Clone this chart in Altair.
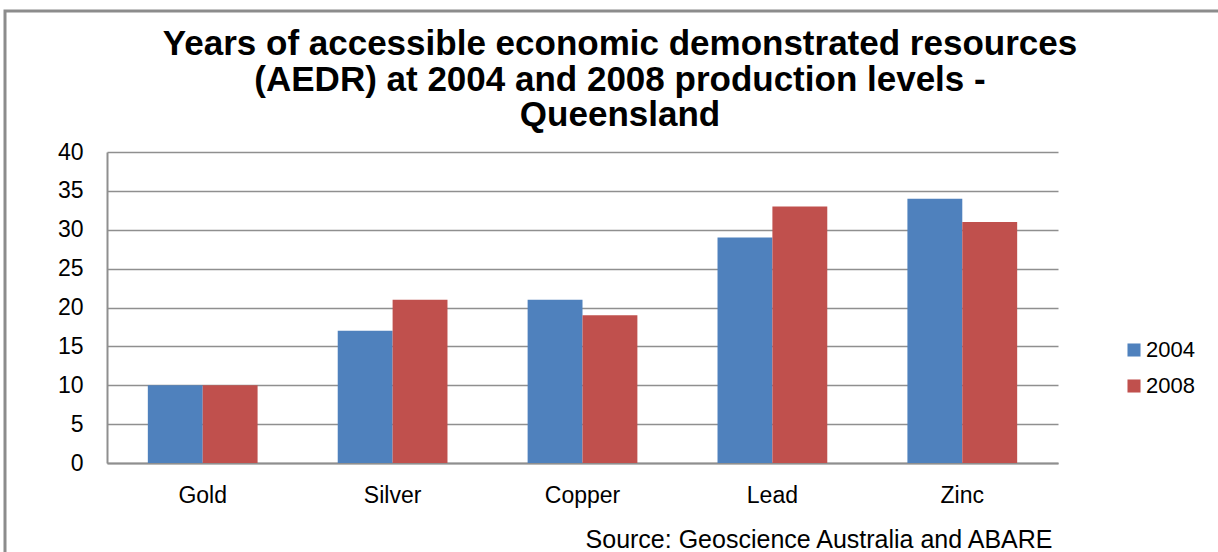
import altair as alt
import pandas as pd

minerals = ["Gold", "Silver", "Copper", "Lead", "Zinc"]
years = ["2004", "2008"]
values_2004 = [10, 17, 21, 29, 34]
values_2008 = [10, 21, 19, 33, 31]
colors = ["#4F81BD", "#C0504D"]
y_ticks = [0, 5, 10, 15, 20, 25, 30, 35, 40]

title_lines = [
    "Years of accessible economic demonstrated resources",
    "(AEDR) at 2004 and 2008 production levels -",
    "Queensland",
]
source_text = "Source: Geoscience Australia and ABARE"

rows = []
for m, a, b in zip(minerals, values_2004, values_2008):
    rows.append({"Mineral": m, "Year": years[0], "Value": a})
    rows.append({"Mineral": m, "Year": years[1], "Value": b})
df = pd.DataFrame(rows)

FONT = "Liberation Sans"
GRID = "#8f8f8f"
FS = 23

bars = alt.Chart(df).mark_bar().encode(
    x=alt.X(
        "Mineral:N",
        sort=minerals,
        scale=alt.Scale(paddingInner=0.422, paddingOuter=0.215),
        axis=alt.Axis(
            title=source_text,
            labelAngle=0,
            labelFontSize=FS,
            labelColor="black",
            labelPadding=21,
            ticks=False,
            domainColor=GRID,
            domainWidth=2,
            titleFontSize=25,
            titleFontWeight="normal",
            titleColor="black",
            titleAnchor="end",
            titleAlign="right",
            titleBaseline="alphabetic",
            titleX=945,
            titleY=84,
        ),
    ),
    xOffset=alt.XOffset("Year:N", sort=years),
    y=alt.Y(
        "Value:Q",
        scale=alt.Scale(domain=[0, 40], nice=False),
        axis=alt.Axis(
            title=None,
            values=y_ticks,
            labelFontSize=FS,
            labelColor="black",
            labelPadding=24,
            ticks=False,
            domainColor=GRID,
            domainWidth=2,
            gridColor=GRID,
            gridWidth=1.5,
        ),
    ),
    color=alt.Color(
        "Year:N",
        scale=alt.Scale(domain=years, range=colors),
        legend=alt.Legend(
            title=None,
            orient="none",
            legendX=1016,
            legendY=187,
            symbolType="square",
            symbolSize=170,
            symbolStrokeWidth=0,
            labelFontSize=22,
            labelColor="black",
            rowPadding=14,
            labelOffset=1,
        ),
    ),
)

one = pd.DataFrame({"k": [0]})

frame = alt.Chart(one).mark_rect(
    fill=None, stroke="#8c8c8c", strokeWidth=3, clip=False
).encode(
    x=alt.value(-102), x2=alt.value(1125),
    y=alt.value(-141), y2=alt.value(420),
)

title = alt.Chart(one).mark_text(
    font=FONT, fontSize=35, fontWeight="bold", color="black",
    align="center", baseline="alphabetic", lineHeight=35.5,
).encode(
    x=alt.value(513), y=alt.value(-97), text=alt.value(title_lines),
)

chart = alt.layer(frame, title, bars).properties(
    width=951,
    height=311,
    autosize=alt.AutoSizeParams(type="none"),
    padding={"left": 107, "top": 152, "right": 160, "bottom": 89},
).configure(font=FONT).configure_view(stroke=None).configure_axis(
    labelFont=FONT, titleFont=FONT
).configure_legend(labelFont=FONT)

chart.save("out.html", embed_options={"renderer": "svg", "actions": False})
